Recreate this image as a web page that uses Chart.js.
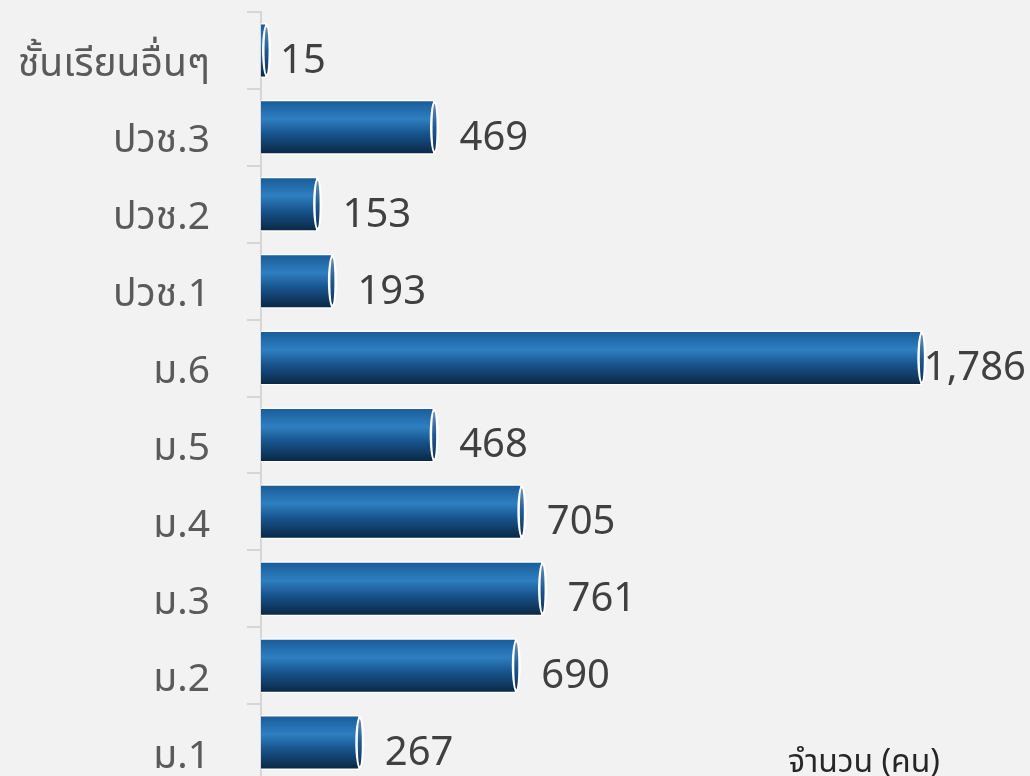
<!DOCTYPE html>
<html>
<head>
<meta charset="utf-8">
<script src="https://cdn.jsdelivr.net/npm/chart.js@4/dist/chart.umd.min.js"></script>
<style>
  html, body { margin: 0; padding: 0; background: #f2f2f2; overflow: hidden; }
  #wrap { width: 1030px; height: 776px; overflow: hidden; position: relative; }
  canvas { display: block; }
</style>
</head>
<body>
<div id="wrap"><canvas id="c" width="1030" height="790"></canvas></div>
<script>
const categories = ['ชั้นเรียนอื่นๆ', 'ปวช.3', 'ปวช.2', 'ปวช.1', 'ม.6', 'ม.5', 'ม.4', 'ม.3', 'ม.2', 'ม.1'];
const students = [15, 469, 153, 193, 1786, 468, 705, 761, 690, 267];
const axisTitle = 'จำนวน (คน)';

const FONT = '"Noto Sans", "Noto Sans Thai", sans-serif';
const BAR_FRACTION = 0.715;

function barGradient(c) {
  const chart = c.chart;
  const ys = chart.scales.y;
  if (!ys || !chart.chartArea) return '#1d5a92';
  const band = ys.height / categories.length;
  const h = band * BAR_FRACTION;
  const yc = ys.getPixelForValue(c.dataIndex);
  const top = yc - h / 2, bot = yc + h / 2;
  const g = chart.ctx.createLinearGradient(0, top, 0, bot);
  g.addColorStop(0, '#185a96');
  g.addColorStop(0.35, '#2e7fc1');
  g.addColorStop(0.62, '#17548c');
  g.addColorStop(1, '#0a2540');
  return g;
}

const cylinderPlugin = {
  id: 'cylinder',
  afterDatasetsDraw(chart) {
    const ctx = chart.ctx;
    chart.getDatasetMeta(0).data.forEach(el => {
      const ry = el.height / 2 - 1;
      ctx.save();
      ctx.beginPath();
      ctx.ellipse(el.x, el.y, 4.5, ry, 0, 0, Math.PI * 2);
      ctx.fillStyle = '#ffffff';
      ctx.fill();
      ctx.beginPath();
      ctx.ellipse(el.x, el.y, 2, ry - 3, 0, 0, Math.PI * 2);
      const g = ctx.createLinearGradient(0, el.y - ry, 0, el.y + ry);
      g.addColorStop(0, '#6f95bb');
      g.addColorStop(0.5, '#1d5a92');
      g.addColorStop(1, '#0d2f52');
      ctx.fillStyle = g;
      ctx.fill();
      ctx.restore();
    });
  },
  afterDraw(chart) {
    const ctx = chart.ctx;
    const ys = chart.scales.y;
    ctx.save();
    // category labels
    ctx.font = '39px ' + FONT;
    ctx.fillStyle = '#5a5a5a';
    ctx.textAlign = 'right';
    ctx.textBaseline = 'middle';
    categories.forEach((lab, i) => {
      ctx.fillText(lab, ys.right - 51, ys.getPixelForValue(i) + 14);
    });
    // value labels
    ctx.font = '40px ' + FONT;
    ctx.fillStyle = '#404040';
    ctx.textAlign = 'left';
    const base = chart.scales.x.getPixelForValue(0);
    chart.getDatasetMeta(0).data.forEach((el, i) => {
      const txt = students[i].toLocaleString('en-US');
      const w = ctx.measureText(txt).width;
      let x = el.x + Math.min(25, (el.x - base) + 8);
      if (x + w > chart.width - 4) x = chart.width - 4 - w;
      ctx.fillText(txt, x, el.y + 11);
    });
    ctx.font = '32px ' + FONT;
    ctx.fillStyle = '#262626';
    ctx.textAlign = 'center';
    ctx.textBaseline = 'alphabetic';
    ctx.fillText(axisTitle, 864, 772);
    ctx.restore();
  }
};

new Chart(document.getElementById('c'), {
  type: 'bar',
  data: {
    labels: categories,
    datasets: [{
      data: students,
      backgroundColor: barGradient,
      borderColor: '#ffffff',
      borderWidth: 1.5,
      categoryPercentage: 1,
      barPercentage: BAR_FRACTION
    }]
  },
  options: {
    indexAxis: 'y',
    responsive: false,
    animation: false,
    devicePixelRatio: 1,
    layout: { padding: { top: 12, bottom: 9, right: 29, left: 0 } },
    plugins: { legend: { display: false }, tooltip: { enabled: false } },
    scales: {
      x: { min: 0, max: 2000, display: false },
      y: {
        afterFit(scale) { scale.width = 261; scale.paddingTop = 0; scale.paddingBottom = 0; },
        grid: { drawOnChartArea: false, tickLength: 14, color: '#d6d6d6', lineWidth: 2, offset: true },
        border: { display: true, color: '#d6d6d6', width: 2 },
        ticks: { display: false }
      }
    }
  },
  plugins: [cylinderPlugin]
});
</script>
</body>
</html>
